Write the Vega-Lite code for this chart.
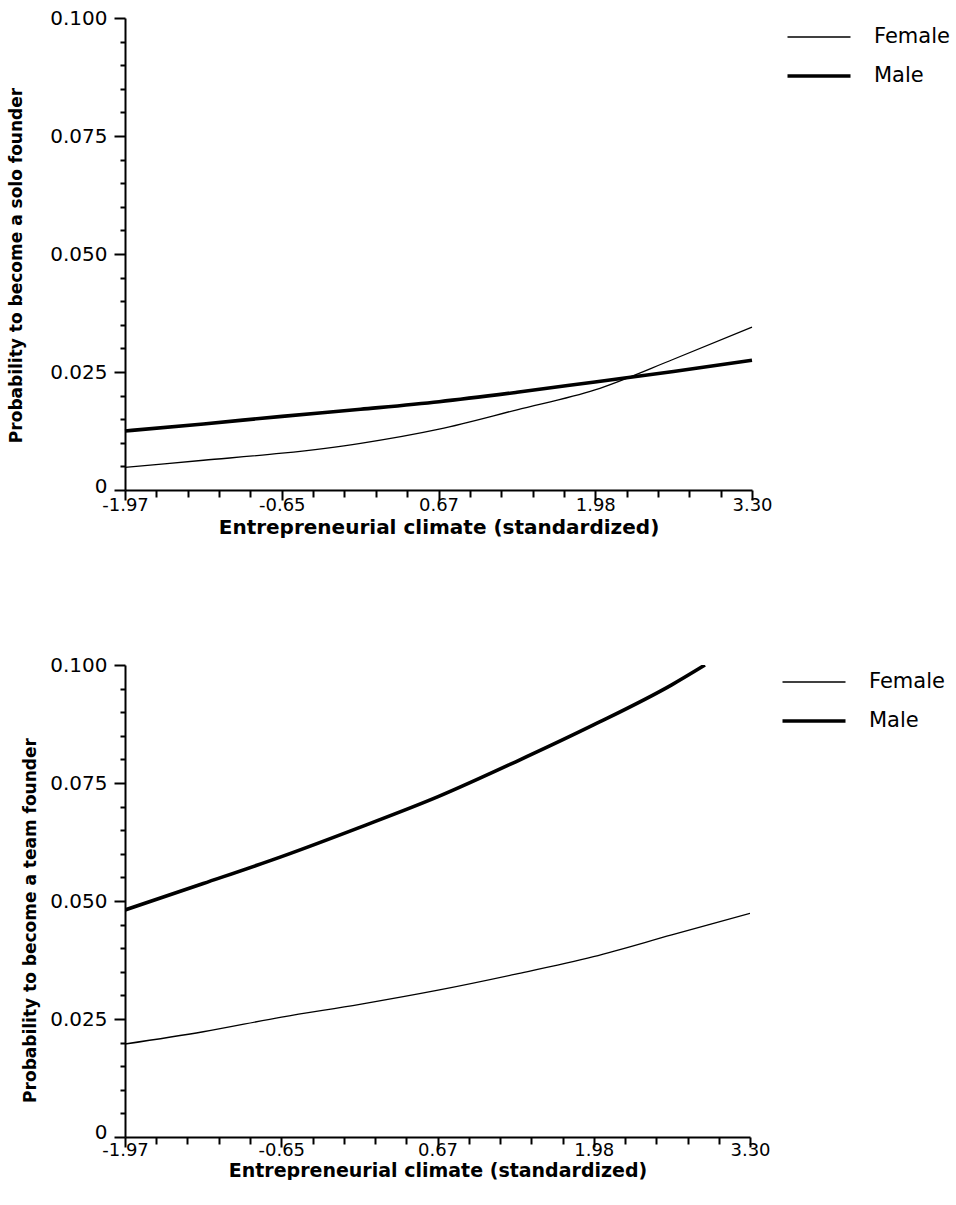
{
  "$schema": "https://vega.github.io/schema/vega-lite/v6.json",
  "padding": {"top": 8, "left": 6, "right": 0, "bottom": 0},
  "background": "white",
  "spacing": 118,
  "datasets": {
    "solo": [
      {"x": -1.97, "p": 0.0125, "gender": "Male"},
      {"x": -1.31, "p": 0.0140, "gender": "Male"},
      {"x": -0.65, "p": 0.0156, "gender": "Male"},
      {"x": 0.01, "p": 0.0171, "gender": "Male"},
      {"x": 0.67, "p": 0.0187, "gender": "Male"},
      {"x": 1.325, "p": 0.0207, "gender": "Male"},
      {"x": 1.98, "p": 0.0229, "gender": "Male"},
      {"x": 2.64, "p": 0.0251, "gender": "Male"},
      {"x": 3.30, "p": 0.0275, "gender": "Male"},
      {"x": -1.97, "p": 0.0048, "gender": "Female"},
      {"x": -1.31, "p": 0.0063, "gender": "Female"},
      {"x": -0.65, "p": 0.0078, "gender": "Female"},
      {"x": 0.01, "p": 0.0099, "gender": "Female"},
      {"x": 0.67, "p": 0.0129, "gender": "Female"},
      {"x": 1.325, "p": 0.0170, "gender": "Female"},
      {"x": 1.98, "p": 0.0212, "gender": "Female"},
      {"x": 2.64, "p": 0.0277, "gender": "Female"},
      {"x": 3.30, "p": 0.0345, "gender": "Female"}
    ],
    "team": [
      {"x": -1.97, "p": 0.0481, "gender": "Male"},
      {"x": -1.31, "p": 0.0537, "gender": "Male"},
      {"x": -0.65, "p": 0.0594, "gender": "Male"},
      {"x": 0.01, "p": 0.0656, "gender": "Male"},
      {"x": 0.67, "p": 0.0721, "gender": "Male"},
      {"x": 1.325, "p": 0.0795, "gender": "Male"},
      {"x": 1.98, "p": 0.0873, "gender": "Male"},
      {"x": 2.64, "p": 0.0958, "gender": "Male"},
      {"x": 2.92, "p": 0.1000, "gender": "Male"},
      {"x": -1.97, "p": 0.0197, "gender": "Female"},
      {"x": -1.31, "p": 0.0223, "gender": "Female"},
      {"x": -0.65, "p": 0.0254, "gender": "Female"},
      {"x": 0.01, "p": 0.0281, "gender": "Female"},
      {"x": 0.67, "p": 0.0311, "gender": "Female"},
      {"x": 1.325, "p": 0.0345, "gender": "Female"},
      {"x": 1.98, "p": 0.0382, "gender": "Female"},
      {"x": 2.64, "p": 0.0428, "gender": "Female"},
      {"x": 3.30, "p": 0.0474, "gender": "Female"}
    ]
  },
  "config": {
    "view": {"stroke": null},
    "axis": {
      "domainColor": "black",
      "domainWidth": 2,
      "tickColor": "black",
      "tickWidth": 2,
      "grid": false,
      "labelFont": "DejaVu Sans",
      "labelFontSize": 20,
      "labelColor": "black",
      "labelOverlap": false,
      "labelFlush": false,
      "labelBound": false,
      "titleColor": "black",
      "titleFont": "DejaVu Sans",
      "titleFontWeight": "bold"
    },
    "legend": {
      "orient": "none",
      "title": null,
      "symbolType": "M-1.5,0H1.5",
      "symbolSize": 1764,
      "symbolStrokeColor": "black",
      "symbolFillColor": "transparent",
      "labelFont": "DejaVu Sans",
      "labelFontSize": 21,
      "labelColor": "black",
      "labelOffset": 32,
      "rowPadding": 6,
      "padding": 0
    }
  },
  "resolve": {"scale": {"strokeWidth": "independent"}, "legend": {"strokeWidth": "independent"}},
  "vconcat": [
    {
      "width": 627,
      "height": 472,
      "data": {"name": "solo"},
      "mark": {"type": "line", "interpolate": "monotone", "color": "black"},
      "encoding": {
        "x": {
          "field": "x", "type": "quantitative",
          "scale": {"domain": [-1.97, 3.3], "nice": false, "zero": false},
          "axis": {
            "title": "Entrepreneurial climate (standardized)",
            "titleFontSize": 20,
            "titleY": 27, "titleBaseline": "top",
            "labelFontSize": 18,
            "values": [-1.97,-1.7065,-1.443,-1.1795,-0.916,-0.6525,-0.389,-0.1255,0.138,0.4015,0.665,0.9285,1.192,1.4555,1.719,1.9825,2.246,2.5095,2.773,3.0365,3.3],
            "labelExpr": "datum.value == -1.97 ? '-1.97' : datum.value == -0.6525 ? '-0.65' : datum.value == 0.665 ? '0.67' : datum.value == 1.9825 ? '1.98' : datum.value == 3.3 ? '3.30' : ''",
            "tickSize": {"condition": {"test": "indexof([-1.97,-0.6525,0.665,1.9825,3.3], datum.value) >= 0", "value": 10}, "value": 7},
            "labelPadding": -4
          }
        },
        "y": {
          "field": "p", "type": "quantitative",
          "scale": {"domain": [0, 0.1], "nice": false},
          "axis": {
            "title": "Probability to become a solo founder",
            "titleFontSize": 17,
            "titleX": -109, "titleY": 247, "titleBaseline": "middle",
            "values": [0,0.005,0.01,0.015,0.02,0.025,0.03,0.035,0.04,0.045,0.05,0.055,0.06,0.065,0.07,0.075,0.08,0.085,0.09,0.095,0.1],
            "labelExpr": "indexof([0,0.025,0.05,0.075,0.1], datum.value) < 0 ? '' : datum.value == 0 ? '0' : format(datum.value, '.3f')",
            "labelOffset": {"condition": {"test": "datum.value == 0", "value": -4}, "value": 0},
            "tickSize": {"condition": {"test": "indexof([0,0.025,0.05,0.075,0.1], datum.value) >= 0", "value": 11}, "value": 5},
            "labelPadding": 7
          }
        },
        "strokeWidth": {
          "field": "gender", "type": "ordinal",
          "scale": {"domain": ["Female", "Male"], "range": [1.3, 3.6]},
          "legend": {"legendX": 671, "legendY": -3}
        }
      }
    },
    {
      "width": 625,
      "height": 472,
      "data": {"name": "team"},
      "mark": {"type": "line", "interpolate": "monotone", "color": "black", "clip": true},
      "encoding": {
        "x": {
          "field": "x", "type": "quantitative",
          "scale": {"domain": [-1.97, 3.3], "nice": false, "zero": false},
          "axis": {
            "title": "Entrepreneurial climate (standardized)",
            "titleFontSize": 19,
            "titleY": 24, "titleBaseline": "top",
            "labelFontSize": 18,
            "values": [-1.97,-1.7065,-1.443,-1.1795,-0.916,-0.6525,-0.389,-0.1255,0.138,0.4015,0.665,0.9285,1.192,1.4555,1.719,1.9825,2.246,2.5095,2.773,3.0365,3.3],
            "labelExpr": "datum.value == -1.97 ? '-1.97' : datum.value == -0.6525 ? '-0.65' : datum.value == 0.665 ? '0.67' : datum.value == 1.9825 ? '1.98' : datum.value == 3.3 ? '3.30' : ''",
            "tickSize": {"condition": {"test": "indexof([-1.97,-0.6525,0.665,1.9825,3.3], datum.value) >= 0", "value": 10}, "value": 7},
            "labelPadding": -6
          }
        },
        "y": {
          "field": "p", "type": "quantitative",
          "scale": {"domain": [0, 0.1], "nice": false},
          "axis": {
            "title": "Probability to become a team founder",
            "titleFontSize": 17,
            "titleX": -95, "titleY": 255, "titleBaseline": "middle",
            "values": [0,0.005,0.01,0.015,0.02,0.025,0.03,0.035,0.04,0.045,0.05,0.055,0.06,0.065,0.07,0.075,0.08,0.085,0.09,0.095,0.1],
            "labelExpr": "indexof([0,0.025,0.05,0.075,0.1], datum.value) < 0 ? '' : datum.value == 0 ? '0' : format(datum.value, '.3f')",
            "labelOffset": {"condition": {"test": "datum.value == 0", "value": -5}, "value": 0},
            "tickSize": {"condition": {"test": "indexof([0,0.025,0.05,0.075,0.1], datum.value) >= 0", "value": 11}, "value": 5},
            "labelPadding": 7
          }
        },
        "strokeWidth": {
          "field": "gender", "type": "ordinal",
          "scale": {"domain": ["Female", "Male"], "range": [1.3, 3.6]},
          "legend": {"legendX": 666, "legendY": -5}
        }
      }
    }
  ]
}
